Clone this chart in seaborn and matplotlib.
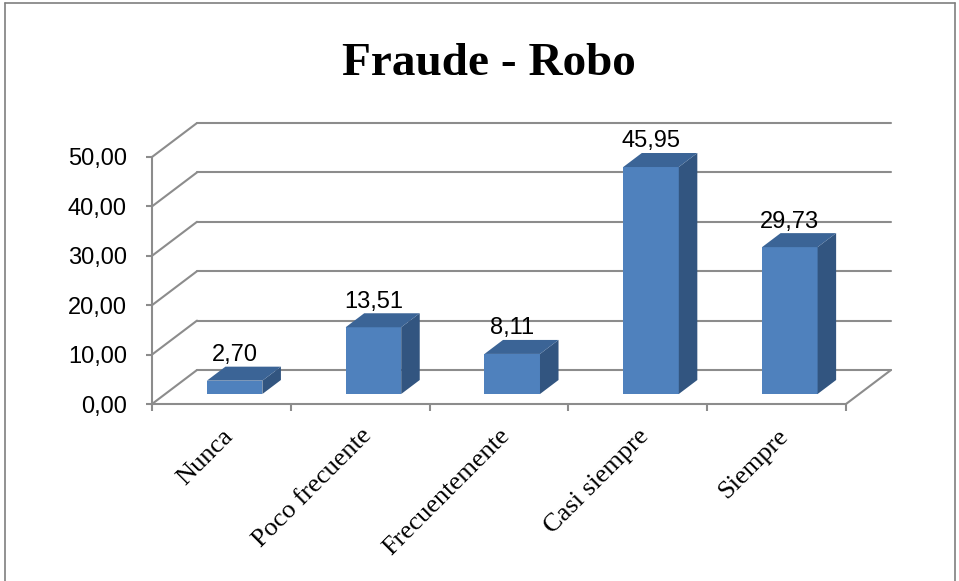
import pandas as pd
import matplotlib
matplotlib.use('Agg')
import matplotlib.pyplot as plt
from matplotlib.patches import Polygon
from matplotlib.lines import Line2D
import seaborn as sns

# datos del grafico
categorias = ['Nunca', 'Poco frecuente', 'Frecuentemente', 'Casi siempre', 'Siempre']
porcentajes = [2.70, 13.51, 8.11, 45.95, 29.73]
etiquetas = ['2,70', '13,51', '8,11', '45,95', '29,73']
ticks_y = [0, 10, 20, 30, 40, 50]
ticks_y_lbl = ['0,00', '10,00', '20,00', '30,00', '40,00', '50,00']
titulo = 'Fraude - Robo'

sns.set_style('white')
plt.rcParams['text.color'] = 'black'
plt.rcParams['xtick.color'] = 'black'
plt.rcParams['ytick.color'] = 'black'
plt.rcParams['axes.labelcolor'] = 'black'

W, H = 959, 581
fig = plt.figure(figsize=(W / 100, H / 100), dpi=100)
fig.patch.set_facecolor('white')

# plano frontal del grafico 3D
ax_l, ax_b, ax_w, ax_h = 152, 404, 694, 247
ax = fig.add_axes([ax_l / W, (H - ax_b) / H, ax_w / W, ax_h / H])

df = pd.DataFrame({'categoria': categorias, 'valor': porcentajes})
sns.barplot(data=df, x='categoria', y='valor', color='#4F81BD', width=0.4,
            saturation=1, ax=ax, zorder=3, linewidth=0)
ax.set_xlim(-0.5, 4.5)
ax.set_ylim(0, 50)

# profundidad en unidades de datos
sx = ax_w / 5.0
sy = ax_h / 50.0
DX = 45 / sx
DY = 34 / sy
f0, f1 = 10 / 34, 24 / 34
grid_col = '#8c8c8c'

# pared del fondo y piso
for v in ticks_y:
    ax.add_line(Line2D([-0.5 + DX, 4.5 + DX], [v + DY, v + DY], color=grid_col,
                       lw=1.5, clip_on=False, zorder=1))
    ax.add_line(Line2D([-0.5, -0.5 + DX], [v, v + DY], color=grid_col,
                       lw=1.5, clip_on=False, zorder=1))
ax.add_line(Line2D([4.5, 4.5 + DX], [0, DY], color=grid_col, lw=1.5,
                   clip_on=False, zorder=1))

# barras en 3D: cara frontal, lateral y superior
for p, v, lbl in zip(ax.patches, porcentajes, etiquetas):
    x0 = p.get_x() + f0 * DX
    w = p.get_width()
    y0 = f0 * DY
    p.set_x(x0)
    p.set_y(y0)
    p.set_clip_on(False)
    x1 = x0 + w
    ddx = (f1 - f0) * DX
    ddy = (f1 - f0) * DY
    lado = Polygon([(x1, y0), (x1 + ddx, y0 + ddy), (x1 + ddx, v + y0 + ddy), (x1, v + y0)],
                   closed=True, facecolor='#325580', edgecolor='none', zorder=3, clip_on=False)
    tapa = Polygon([(x0, v + y0), (x1, v + y0), (x1 + ddx, v + y0 + ddy), (x0 + ddx, v + y0 + ddy)],
                   closed=True, facecolor='#3B6496', edgecolor='none', zorder=3, clip_on=False)
    ax.add_patch(lado)
    ax.add_patch(tapa)
    ax.annotate(lbl, (x0 + w / 2, v + f1 * DY), xytext=(0, 4), textcoords='offset points',
                ha='center', va='baseline', fontsize=17, family='Liberation Sans',
                color='black', annotation_clip=False)

# ejes
for s in ['top', 'right']:
    ax.spines[s].set_visible(False)
for s in ['left', 'bottom']:
    ax.spines[s].set_color(grid_col)
    ax.spines[s].set_linewidth(1.5)
    ax.spines[s].set_zorder(1)

ax.set_yticks(ticks_y)
ax.set_yticklabels(ticks_y_lbl, fontsize=17, family='Liberation Sans', color='black')
ax.tick_params(axis='y', which='major', left=True, length=4.5, width=1.5,
               color=grid_col, pad=13.5)

ax.set_xticks(range(len(categorias)))
ax.set_xticks([i - 0.5 for i in range(len(categorias) + 1)], minor=True)
ax.set_xticklabels(categorias, rotation=45, ha='right', rotation_mode='anchor',
                   fontsize=19, family='Liberation Serif', color='black')
ax.tick_params(axis='x', which='major', length=0, pad=15)
ax.tick_params(axis='x', which='minor', bottom=True, length=5, width=1.5, color=grid_col)
ax.set_xlabel('')
ax.set_ylabel('')
ax.grid(False)

fig.text(488.5 / W, 1 - 75 / H, titulo, ha='center', va='baseline', fontsize=34,
         fontweight='bold', family='Liberation Serif', color='black')

# marco del grafico
fig.add_artist(Line2D([5 / W, 5 / W], [0, 1 - 3 / H], color='#7f7f7f', lw=1.2,
                      transform=fig.transFigure))
fig.add_artist(Line2D([5 / W, 955 / W], [1 - 3 / H, 1 - 3 / H], color='#7f7f7f', lw=1.2,
                      transform=fig.transFigure))
fig.add_artist(Line2D([955 / W, 955 / W], [0, 1 - 3 / H], color='#7f7f7f', lw=1.2,
                      transform=fig.transFigure))

fig.savefig('out.png', dpi=100, facecolor='white')
